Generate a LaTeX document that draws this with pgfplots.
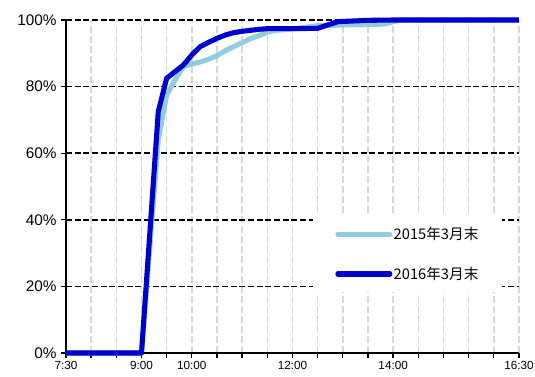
\documentclass[border=0pt]{standalone}
\usepackage{fontspec}
\setmainfont{Liberation Sans}
\newfontfamily\cjk{Noto Sans CJK JP}
\usepackage{pgfplots}
\pgfplotsset{compat=1.18}
\usepackage{pgfplotstable}

\definecolor{lightser}{RGB}{146,205,221}
\definecolor{darkser}{RGB}{0,0,204}
\definecolor{vgrid}{RGB}{216,216,216}

% cumulative share by time of day (hours)
\pgfplotstableread{
t y
7.5 0
9.0 0
9.3333 64
9.5 77.5
9.6667 82
9.8333 86
10.0 86.8
10.1667 87.4
10.3333 88.2
10.5 89.3
10.6667 90.8
10.8333 92.0
11.0 93.2
11.1667 94.4
11.3333 95.3
11.5 96.4
11.6667 96.9
12.0 97.3
12.5 98.3
13.0 98.5
13.5 98.6
13.8333 98.8
14.0 99.5
14.1667 100
16.5 100
}\yearA

\pgfplotstableread{
t y
7.5 0
9.0 0
9.3333 72.5
9.5 82.5
9.6667 84.5
9.8333 86.5
10.0 89.5
10.1667 92.0
10.3333 93.3
10.5 94.5
10.6667 95.5
10.8333 96.2
11.0 96.6
11.3333 97.2
11.5 97.4
12.0 97.4
12.5 97.5
12.9 99.5
13.5 99.9
14.0 100
16.5 100
}\yearB

\begin{document}
\begin{tikzpicture}
\useasboundingbox (-49.5pt,-17.25pt) rectangle (351.75pt,264.75pt);
\begin{axis}[
  at={(0,0)}, anchor=south west,
  scale only axis,
  width=339.75pt, height=249.75pt,
  xmin=7.5, xmax=16.5,
  ymin=0, ymax=100,
  clip=false,
  axis lines*=left,
  axis line style={black, line width=1.2pt},
  xtick={7.5,8,...,16.5},
  xticklabels={7:30,{},{},9:00,{},10:00,{},{},{},12:00,{},{},{},14:00,{},{},{},{},16:30},
  ytick={0,20,...,100},
  yticklabel={\pgfmathprintnumber{\tick}\%},
  /pgf/number format/assume math mode=true,
  tick align=outside,
  major tick length=3.5pt,
  tick style={black, line width=1pt},
  x tick label style={font=\fontsize{8.8}{10}\selectfont, yshift=1pt},
  y tick label style={font=\fontsize{11.5}{13}\selectfont},
  grid=major,
  major x grid style={vgrid, line width=1.1pt, dash pattern=on 5pt off 2.5pt},
  major y grid style={black, line width=1.1pt, dash pattern=on 4.5pt off 2pt},
  legend style={draw=none, fill=none, at={(rel axis cs:0.594,0.383)}, anchor=north west,
    inner sep=0pt, row sep=17pt,
    font=\cjk\fontsize{11}{13}\selectfont,
    nodes={inner sep=1pt}},
  legend cell align=left,
  legend image code/.code={\draw[#1, line cap=round] (0pt,0pt) -- (39pt,0pt);},
]
\fill[white] (rel axis cs:0.545,0.183) rectangle (rel axis cs:0.962,0.417);
\addplot[lightser, line width=3.8pt, line join=round] table[x=t,y=y] {\yearA};
\addlegendentry{2015年3月末}
\addplot[darkser, line width=3.8pt, line join=round] table[x=t,y=y] {\yearB};
\addlegendentry{2016年3月末}
\end{axis}
\end{tikzpicture}
\end{document}
